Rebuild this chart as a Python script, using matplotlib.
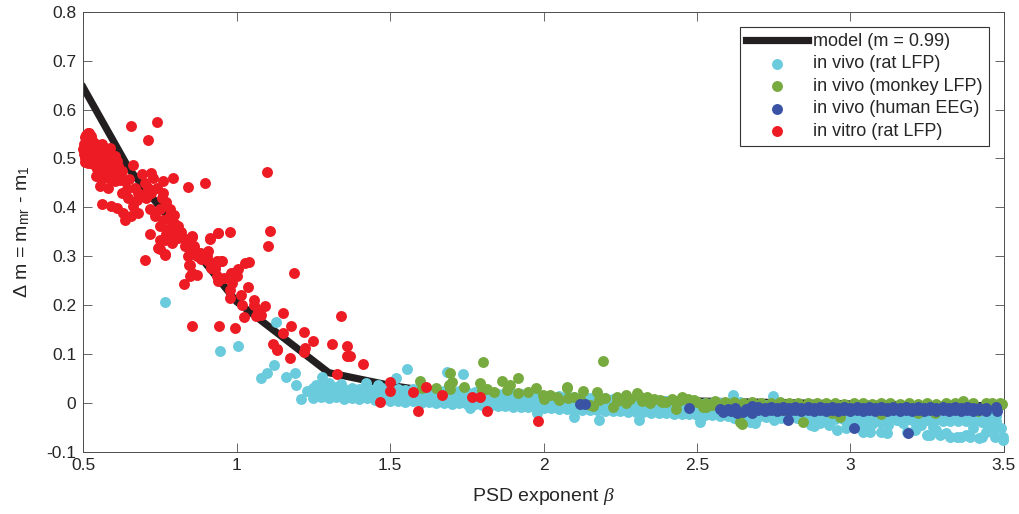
import matplotlib
matplotlib.use("Agg")
import matplotlib.pyplot as plt

# ---------------- data ----------------
model_x = [0.5, 0.65, 1.0, 1.3, 1.5, 1.65, 2.0, 2.5, 3.0, 3.5]
model_y = [0.645, 0.478, 0.207, 0.062, 0.036, 0.022, 0.012, 0.004, -0.002, -0.006]

# in vivo (rat LFP): scattered points
rat_pts = [
    (0.765, 0.207), (0.944, 0.107), (1.004, 0.116), (1.129, 0.165), (1.122, 0.077),
    (1.100, 0.061), (1.080, 0.051), (1.161, 0.053), (1.190, 0.062), (1.194, 0.037),
    (1.210, 0.008), (1.278, 0.054), (1.555, 0.069), (1.520, 0.051), (1.685, 0.064),
    (1.739, 0.059), (2.618, 0.016), (2.746, 0.014), (1.230, 0.025), (1.260, 0.036),
    (2.955, -0.055), (2.987, -0.052), (3.042, -0.059), (3.069, -0.042), (3.123, -0.045),
    (3.150, -0.035), (3.118, -0.062), (3.183, -0.059), (3.210, -0.055), (3.259, -0.066),
    (3.292, -0.066), (3.346, -0.069), (3.378, -0.066), (3.400, -0.052), (3.400, -0.035),
    (3.432, -0.038), (3.450, -0.040), (3.475, -0.052), (3.497, -0.069), (3.470, -0.069),
    (3.430, -0.069), (2.870, -0.045), (2.880, -0.048), (3.050, -0.040), (3.270, -0.050),
    (3.310, -0.062), (2.750, -0.035), (2.672, -0.038), (2.690, -0.040), (3.063, -0.059),
    (3.096, -0.038), (3.100, -0.060), (3.215, -0.052), (3.248, -0.066), (3.280, -0.055),
    (3.324, -0.069), (3.360, -0.069), (3.390, -0.069), (3.420, -0.072), (3.430, -0.038),
    (3.460, -0.050), (3.490, -0.052), (3.498, -0.076), (3.400, -0.028), (2.180, -0.035),
    (2.100, -0.028), (2.310, -0.035), (2.510, -0.038), (2.620, -0.030), (2.900, -0.040),
    (2.930, -0.045), (3.000, -0.048), (3.020, -0.045), (3.170, -0.040), (3.230, -0.045),
    (3.440, -0.060), (1.760, -0.010), (1.980, -0.020), (2.640, 0.002), (1.300, 0.040),
    (1.340, 0.038), (1.420, 0.040), (1.460, 0.037),
]
# in vivo (rat LFP): dense band, rows of (beta, upper, middle, lower)
rat_band = [
    (1.250, 0.030, 0.020, 0.011), (1.275, 0.033, 0.022, 0.013), (1.300, 0.029, 0.019, 0.010),
    (1.325, 0.032, 0.021, 0.012), (1.350, 0.029, 0.018, 0.009), (1.375, 0.031, 0.021, 0.011),
    (1.400, 0.028, 0.018, 0.008), (1.425, 0.031, 0.020, 0.010), (1.450, 0.028, 0.017, 0.007),
    (1.475, 0.030, 0.019, 0.009), (1.500, 0.027, 0.015, 0.004), (1.525, 0.029, 0.017, 0.005),
    (1.550, 0.026, 0.014, 0.002), (1.575, 0.028, 0.016, 0.004), (1.600, 0.025, 0.013, 0.001),
    (1.625, 0.026, 0.014, 0.002), (1.650, 0.024, 0.012, -0.001), (1.675, 0.025, 0.013, 0.000),
    (1.700, 0.023, 0.011, -0.002), (1.725, 0.024, 0.012, -0.001), (1.750, 0.022, 0.010, -0.003),
    (1.775, 0.023, 0.011, -0.003), (1.800, 0.021, 0.008, -0.005), (1.825, 0.021, 0.008, -0.006),
    (1.850, 0.019, 0.007, -0.007), (1.875, 0.020, 0.007, -0.007), (1.900, 0.018, 0.006, -0.008),
    (1.925, 0.018, 0.005, -0.009), (1.950, 0.016, 0.004, -0.009), (1.975, 0.017, 0.004, -0.010),
    (2.000, 0.015, 0.003, -0.011), (2.025, 0.015, 0.003, -0.011), (2.050, 0.014, 0.002, -0.012),
    (2.075, 0.014, 0.001, -0.013), (2.100, 0.013, 0.000, -0.013), (2.125, 0.012, 0.000, -0.014),
    (2.150, 0.011, -0.001, -0.015), (2.175, 0.011, -0.002, -0.015), (2.200, 0.010, -0.003, -0.016),
    (2.225, 0.009, -0.003, -0.017), (2.250, 0.008, -0.004, -0.017), (2.275, 0.008, -0.005, -0.018),
    (2.300, 0.007, -0.005, -0.018), (2.325, 0.006, -0.006, -0.019), (2.350, 0.005, -0.007, -0.020),
    (2.375, 0.005, -0.007, -0.020), (2.400, 0.004, -0.008, -0.021), (2.425, 0.003, -0.009, -0.022),
    (2.450, 0.002, -0.009, -0.022), (2.475, 0.002, -0.010, -0.023), (2.500, 0.001, -0.011, -0.024),
    (2.525, 0.000, -0.011, -0.024), (2.550, -0.001, -0.012, -0.025), (2.575, -0.001, -0.013, -0.026),
    (2.600, -0.002, -0.013, -0.026), (2.625, -0.003, -0.014, -0.027), (2.650, -0.003, -0.014, -0.027),
    (2.675, -0.004, -0.015, -0.028), (2.700, -0.005, -0.016, -0.028), (2.725, -0.005, -0.016, -0.029),
    (2.750, -0.006, -0.017, -0.029), (2.775, -0.006, -0.017, -0.030), (2.800, -0.007, -0.018, -0.030),
    (2.825, -0.007, -0.018, -0.031), (2.850, -0.008, -0.019, -0.031), (2.875, -0.008, -0.019, -0.031),
    (2.900, -0.009, -0.019, -0.032), (2.925, -0.009, -0.020, -0.032), (2.950, -0.009, -0.020, -0.032),
    (2.975, -0.010, -0.020, -0.033), (3.000, -0.010, -0.021, -0.033), (3.025, -0.010, -0.021, -0.033),
    (3.050, -0.011, -0.021, -0.033), (3.075, -0.011, -0.022, -0.034), (3.100, -0.011, -0.022, -0.034),
    (3.125, -0.012, -0.022, -0.034), (3.150, -0.012, -0.022, -0.034), (3.175, -0.012, -0.023, -0.035),
    (3.200, -0.012, -0.023, -0.035), (3.225, -0.013, -0.023, -0.035), (3.250, -0.013, -0.023, -0.035),
    (3.275, -0.013, -0.024, -0.035), (3.300, -0.013, -0.024, -0.036), (3.325, -0.014, -0.024, -0.036),
    (3.350, -0.014, -0.024, -0.036), (3.375, -0.014, -0.025, -0.036), (3.400, -0.014, -0.025, -0.037),
    (3.425, -0.015, -0.025, -0.037), (3.450, -0.015, -0.025, -0.037), (3.475, -0.015, -0.026, -0.037),
]

# in vivo (monkey LFP)
monkey_pts = [
    (1.598, 0.044), (1.603, 0.030), (1.695, 0.061), (1.693, 0.037), (1.700, 0.042),
    (1.695, 0.028), (1.793, 0.040), (1.804, 0.083), (1.815, 0.028), (1.800, 0.027),
    (1.837, 0.023), (1.864, 0.044), (1.889, 0.037), (1.918, 0.052), (1.918, 0.020),
    (1.976, 0.030), (1.999, 0.016), (2.020, 0.016), (2.043, 0.013), (2.075, 0.030),
    (2.077, 0.032), (2.100, 0.013), (2.130, 0.025), (2.173, 0.023), (2.193, 0.086),
    (2.150, -0.004), (2.160, -0.007), (2.227, -0.008), (2.238, 0.013), (2.270, 0.016),
    (2.270, 0.000), (2.303, 0.020), (2.310, 0.014), (2.336, 0.013), (2.347, -0.001),
    (2.380, 0.006), (2.385, 0.002), (2.420, 0.008), (2.428, 0.005), (2.450, 0.013),
    (2.455, 0.009), (2.470, 0.008), (2.490, 0.006), (2.520, -0.008), (2.530, -0.008),
    (2.430, -0.012), (2.645, -0.042), (2.640, -0.038), (2.846, -0.038), (2.966, -0.028),
    (3.275, -0.021), (3.410, -0.014), (3.443, 0.000), (3.368, 0.005), (3.487, -0.001),
    (3.416, -0.016), (2.000, 0.008), (2.050, 0.006), (2.080, 0.010), (2.120, 0.008),
    (2.180, 0.006), (2.200, 0.010), (2.240, 0.005), (2.280, 0.008), (2.320, 0.004),
    (2.360, 0.008), (2.400, 0.002), (2.440, 0.004), (2.480, 0.000), (2.550, -0.004),
    (2.600, -0.006), (2.660, -0.010), (2.720, -0.012), (2.780, -0.015), (2.940, -0.020),
    (3.100, -0.022), (3.220, -0.020), (2.500, 0.003), (2.530, 0.001), (2.560, 0.004),
    (2.590, 0.002), (2.620, 0.003), (2.650, 0.001), (2.680, 0.003), (2.710, 0.001),
    (2.740, 0.000), (2.770, 0.002), (2.800, 0.000), (2.830, -0.001), (2.860, 0.001),
    (2.890, -0.001), (2.920, 0.001), (2.950, -0.001), (2.980, -0.002), (3.010, 0.000),
    (3.040, -0.001), (3.070, -0.002), (3.100, 0.000), (3.130, -0.001), (3.160, -0.002),
    (3.190, -0.001), (3.220, -0.002), (3.250, -0.001), (3.280, -0.002), (3.310, -0.001),
    (3.340, 0.001), (3.400, 0.000), (3.460, 0.001), (3.495, -0.003), (1.650, 0.030),
    (1.740, 0.032), (1.880, 0.026), (1.950, 0.022),
]

# in vivo (human EEG): scattered points
human_pts = [
    (2.119, -0.002), (2.135, -0.002), (2.475, -0.010), (2.586, -0.018), (2.624, -0.011),
    (2.651, -0.018), (2.678, -0.006), (2.690, -0.010), (2.795, -0.034), (3.010, -0.052),
    (3.189, -0.062), (3.475, -0.008), (3.478, -0.016), (2.600, -0.012), (2.630, -0.020),
    (2.660, -0.012), (2.680, -0.020), (2.575, -0.012), (2.610, -0.016),
]
# in vivo (human EEG): band rows of (beta, upper, lower)
human_band = [
    (2.70, -0.009, -0.015), (2.72, -0.010, -0.016), (2.74, -0.008, -0.014), (2.76, -0.010, -0.016),
    (2.78, -0.009, -0.014), (2.80, -0.010, -0.016), (2.82, -0.008, -0.015), (2.84, -0.010, -0.016),
    (2.86, -0.009, -0.014), (2.88, -0.010, -0.016), (2.90, -0.008, -0.015), (2.92, -0.010, -0.017),
    (2.94, -0.009, -0.014), (2.96, -0.010, -0.016), (2.98, -0.008, -0.015), (3.00, -0.010, -0.016),
    (3.02, -0.009, -0.014), (3.04, -0.010, -0.016), (3.06, -0.008, -0.015), (3.08, -0.010, -0.017),
    (3.10, -0.009, -0.014), (3.12, -0.010, -0.016), (3.14, -0.008, -0.015), (3.16, -0.010, -0.016),
    (3.18, -0.009, -0.014), (3.20, -0.010, -0.016), (3.22, -0.009, -0.015), (3.24, -0.010, -0.017),
    (3.26, -0.009, -0.014), (3.28, -0.010, -0.016), (3.30, -0.009, -0.015), (3.32, -0.010, -0.016),
    (3.34, -0.009, -0.014), (3.36, -0.010, -0.016), (3.38, -0.009, -0.015), (3.40, -0.011, -0.017),
    (3.42, -0.010, -0.015), (3.44, -0.011, -0.017),
]

# in vitro (rat LFP)
vitro_pts = [
    (0.500, 0.520), (0.502, 0.530), (0.505, 0.543), (0.510, 0.548), (0.516, 0.553),
    (0.520, 0.553), (0.525, 0.545), (0.530, 0.538), (0.503, 0.510), (0.505, 0.500),
    (0.505, 0.492), (0.510, 0.515), (0.516, 0.512), (0.520, 0.525), (0.525, 0.505),
    (0.533, 0.488), (0.535, 0.520), (0.540, 0.530), (0.545, 0.512), (0.549, 0.505),
    (0.550, 0.495), (0.555, 0.520), (0.560, 0.529), (0.565, 0.510), (0.571, 0.492),
    (0.575, 0.515), (0.580, 0.500), (0.587, 0.522), (0.590, 0.510), (0.595, 0.497),
    (0.603, 0.505), (0.609, 0.495), (0.612, 0.485), (0.543, 0.464), (0.560, 0.457),
    (0.554, 0.444), (0.581, 0.440), (0.592, 0.468), (0.614, 0.464), (0.625, 0.474),
    (0.603, 0.454), (0.515, 0.490), (0.530, 0.500), (0.560, 0.480), (0.575, 0.475),
    (0.590, 0.480), (0.600, 0.475), (0.585, 0.460), (0.570, 0.465), (0.620, 0.455),
    (0.545, 0.478),
    (0.663, 0.486), (0.690, 0.468), (0.722, 0.471), (0.728, 0.461), (0.761, 0.454),
    (0.791, 0.461), (0.842, 0.442), (0.896, 0.449), (0.636, 0.454), (0.650, 0.457),
    (0.641, 0.437), (0.668, 0.440), (0.679, 0.430), (0.625, 0.430), (0.647, 0.420),
    (0.674, 0.416), (0.663, 0.403), (0.560, 0.406), (0.592, 0.403), (0.609, 0.399),
    (0.630, 0.389), (0.636, 0.375), (0.657, 0.382), (0.679, 0.389), (0.706, 0.420),
    (0.717, 0.396), (0.755, 0.420), (0.750, 0.396), (0.782, 0.396), (0.733, 0.382),
    (0.761, 0.375), (0.788, 0.375), (0.750, 0.362), (0.777, 0.355), (0.809, 0.362),
    (0.717, 0.345), (0.750, 0.334), (0.770, 0.345), (0.809, 0.338), (0.790, 0.330),
    (0.831, 0.321), (0.853, 0.341), (0.744, 0.317), (0.766, 0.304), (0.701, 0.293),
    (0.847, 0.283), (0.853, 0.266), (0.880, 0.307), (0.902, 0.300), (0.913, 0.338),
    (0.940, 0.348), (0.978, 0.349), (0.950, 0.290), (0.929, 0.280), (0.989, 0.266),
    (1.027, 0.287), (0.657, 0.566), (0.739, 0.574), (0.712, 0.538), (0.700, 0.450),
    (0.710, 0.440), (0.695, 0.425), (0.720, 0.430), (0.740, 0.440), (0.760, 0.430),
    (0.770, 0.410), (0.780, 0.380), (0.795, 0.385), (0.800, 0.365), (0.820, 0.350),
    (0.830, 0.335), (0.860, 0.320), (0.870, 0.300), (0.885, 0.295), (0.895, 0.305),
    (0.905, 0.290), (0.915, 0.275), (0.860, 0.315), (0.840, 0.300),
    (1.107, 0.351), (1.103, 0.321), (1.187, 0.265), (0.939, 0.347), (0.914, 0.336),
    (0.854, 0.340), (1.041, 0.289), (1.003, 0.273), (0.982, 0.266), (0.984, 0.245),
    (1.036, 0.237), (1.014, 0.220), (1.055, 0.211), (1.057, 0.200), (1.093, 0.198),
    (1.025, 0.175), (1.064, 0.177), (1.152, 0.183), (1.178, 0.158), (1.152, 0.144),
    (1.220, 0.146), (1.250, 0.126), (1.117, 0.120), (1.131, 0.110), (1.174, 0.092),
    (1.223, 0.112), (1.310, 0.120), (1.339, 0.177), (1.359, 0.117), (1.359, 0.096),
    (1.370, 0.096), (1.410, 0.080), (1.328, 0.059), (0.855, 0.158), (0.943, 0.157),
    (0.995, 0.153), (0.827, 0.243), (0.849, 0.259), (0.870, 0.262), (0.846, 0.283),
    (0.930, 0.273), (0.935, 0.259), (0.940, 0.250), (0.935, 0.290), (0.951, 0.290),
    (0.881, 0.307), (0.908, 0.310), (0.838, 0.321), (0.767, 0.334), (0.749, 0.315),
    (0.767, 0.302), (0.789, 0.328), (0.800, 0.345), (0.979, 0.215), (1.017, 0.201),
    (0.979, 0.232), (1.000, 0.260), (0.960, 0.255), (1.070, 0.190), (1.080, 0.180),
    (1.098, 0.473), (1.220, 0.105), (1.130, 0.109),
    (1.500, 0.042), (1.498, 0.025), (1.467, 0.002), (1.574, 0.023), (1.617, 0.033),
    (1.592, -0.016), (1.668, 0.016), (1.766, 0.012), (1.793, 0.012), (1.815, -0.016),
    (1.983, -0.036),
]

x_ticks = [0.5, 1, 1.5, 2, 2.5, 3, 3.5]
x_tick_labels = ["0.5", "1", "1.5", "2", "2.5", "3", "3.5"]
y_ticks = [-0.1, 0, 0.1, 0.2, 0.3, 0.4, 0.5, 0.6, 0.7, 0.8]
y_tick_labels = ["-0.1", "0", "0.1", "0.2", "0.3", "0.4", "0.5", "0.6", "0.7", "0.8"]

labels = ["model (m = 0.99)", "in vivo (rat LFP)", "in vivo (monkey LFP)",
          "in vivo (human EEG)", "in vitro (rat LFP)"]

# ---------------- style ----------------
plt.rcParams["font.family"] = ["Liberation Sans", "DejaVu Sans"]
plt.rcParams["mathtext.fontset"] = "custom"
plt.rcParams["mathtext.rm"] = "Liberation Sans"
plt.rcParams["mathtext.it"] = "Liberation Serif:italic"
plt.rcParams["axes.unicode_minus"] = False

C_MODEL = "#231f20"
C_RAT = "#6acbdc"
C_MONKEY = "#78ab3f"
C_HUMAN = "#3a53a4"
C_VITRO = "#ed1c24"
AX_COL = "#4d4d4d"
TXT = "#262626"

fig = plt.figure(figsize=(10.19, 5.14), dpi=100)
ax = fig.add_axes([0.0817, 0.1208, 0.9035, 0.8564])

S = 62
rat_x = [p[0] for p in rat_pts] + [r[0] for r in rat_band] * 3
rat_y = ([p[1] for p in rat_pts] + [r[1] for r in rat_band]
         + [r[2] for r in rat_band] + [r[3] for r in rat_band])
mon_x = [p[0] for p in monkey_pts]
mon_y = [p[1] for p in monkey_pts]
hum_x = [p[0] for p in human_pts] + [r[0] for r in human_band] * 2
hum_y = ([p[1] for p in human_pts] + [r[1] for r in human_band]
         + [r[2] for r in human_band])
vit_x = [p[0] for p in vitro_pts]
vit_y = [p[1] for p in vitro_pts]

ax.plot(model_x, model_y, color=C_MODEL, lw=5.2, solid_joinstyle="miter",
        label=labels[0], zorder=2)
ax.scatter(rat_x, rat_y, s=S, color=C_RAT, linewidths=0, label=labels[1],
           zorder=3, clip_on=False)
ax.scatter(mon_x, mon_y, s=S, color=C_MONKEY, linewidths=0, label=labels[2],
           zorder=4, clip_on=False)
ax.scatter(hum_x, hum_y, s=S, color=C_HUMAN, linewidths=0, label=labels[3],
           zorder=5, clip_on=False)
ax.scatter(vit_x, vit_y, s=S, color=C_VITRO, linewidths=0, label=labels[4],
           zorder=6, clip_on=False)

ax.set_xlim(0.5, 3.5)
ax.set_ylim(-0.1, 0.8)
ax.set_xticks(x_ticks)
ax.set_xticklabels(x_tick_labels)
ax.set_yticks(y_ticks)
ax.set_yticklabels(y_tick_labels)
ax.tick_params(direction="in", length=6.5, width=0.6, color=AX_COL,
               labelsize=12.5, labelcolor=TXT, top=True, right=True)
ax.tick_params(axis="x", pad=4.5)
ax.tick_params(axis="y", pad=5.0)
for sp in ax.spines.values():
    sp.set_color(AX_COL)
    sp.set_linewidth(0.7)

ax.set_xlabel(r"PSD exponent $\it{\beta}$", fontsize=14, color=TXT,
              labelpad=9)
ax.set_ylabel(r"$\Delta$ m = m$_{\rm mr}$ - m$_{\rm 1}$", fontsize=14,
              color=TXT, labelpad=10)

leg = ax.legend(loc="upper right", fontsize=13, frameon=True, fancybox=False,
                framealpha=1, edgecolor="#333333", borderaxespad=0.83,
                handlelength=3.4, handletextpad=0.3, labelspacing=0.3,
                borderpad=0.35, scatterpoints=1, markerscale=1.0)
leg.get_frame().set_linewidth(0.8)
for t in leg.get_texts():
    t.set_color(TXT)

fig.savefig("out.png", dpi=100)
